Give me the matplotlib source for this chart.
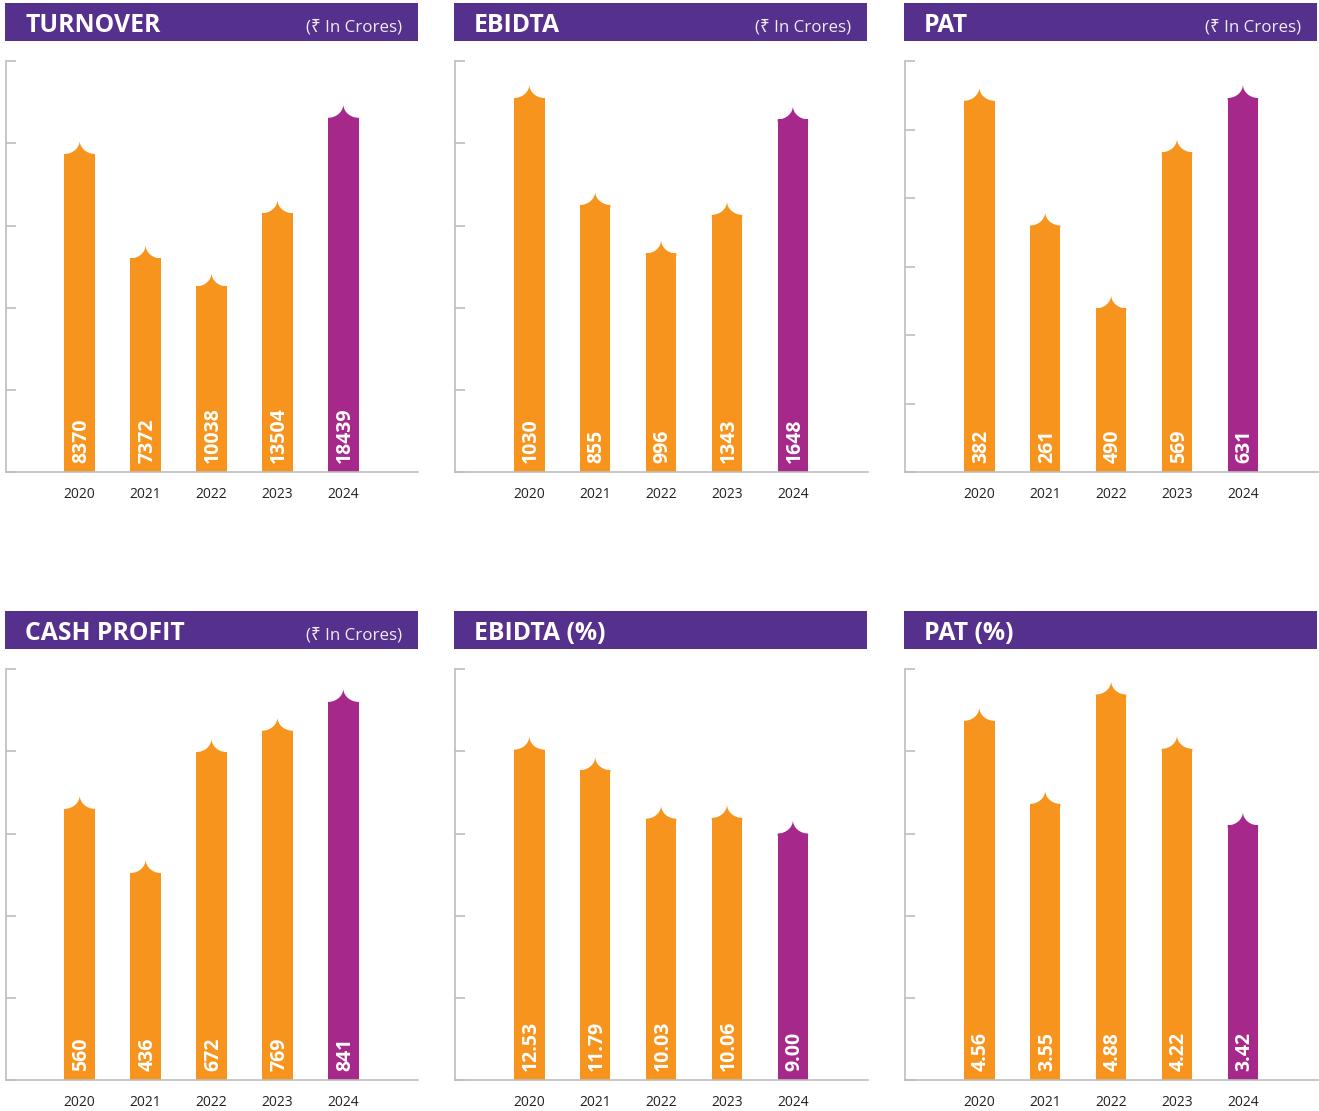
import matplotlib.pyplot as plt
from matplotlib.path import Path
from matplotlib.patches import PathPatch

plt.rcParams['font.family'] = ['Open Sans', 'Noto Sans', 'DejaVu Sans']

##### data #####
years = ['2020', '2021', '2022', '2023', '2024']

turnover = [8370, 7372, 10038, 13504, 18439]
ebidta = [1030, 855, 996, 1343, 1648]
pat = [382, 261, 490, 569, 631]
cash_profit = [560, 436, 672, 769, 841]
ebidta_pct = [12.53, 11.79, 10.03, 10.06, 9.00]
pat_pct = [4.56, 3.55, 4.88, 4.22, 3.42]

# drawn bar heights (in tick steps) -- the graphic is not to scale
turnover_bar = [3.87, 2.60, 2.26, 3.15, 4.31]
ebidta_bar = [4.55, 3.25, 2.66, 3.13, 4.29]
pat_bar = [5.42, 3.60, 2.39, 4.67, 5.46]
cash_profit_bar = [3.30, 2.52, 3.99, 4.25, 4.60]
ebidta_pct_bar = [4.02, 3.77, 3.18, 3.19, 3.00]
pat_pct_bar = [4.37, 3.36, 4.69, 4.03, 3.10]

n_ticks = [5, 5, 6, 5, 5, 5]

ORANGE = '#F7941E'
MAGENTA = '#A6288A'
HEADER = '#55308D'
AXIS = '#BDBDBD'

W, H = 1319, 1111
fig = plt.figure(figsize=(W / 100, H / 100), dpi=100)

panels = [
    ('TURNOVER', True, turnover, turnover_bar, '%d'),
    ('EBIDTA', True, ebidta, ebidta_bar, '%d'),
    ('PAT', True, pat, pat_bar, '%d'),
    ('CASH PROFIT', True, cash_profit, cash_profit_bar, '%d'),
    ('EBIDTA (%)', False, ebidta_pct, ebidta_pct_bar, '%.2f'),
    ('PAT (%)', False, pat_pct, pat_pct_bar, '%.2f'),
]

col_left = [5.7, 455.3, 905.3]
head_left = [5, 454, 904]
row_top = [61, 669]
head_top = [3, 611]
ax_w = 412.4
ax_h = 411.3
bar_w = 0.463
peak_px = 13.5
k = 0.55


def peak(ax, x, top, h, color):
    x0, x1 = x - bar_w / 2, x + bar_w / 2
    a = bar_w / 2
    verts = [(x0, top - 0.03), (x0, top),
             (x0 + k * a, top), (x, top + h - k * h), (x, top + h),
             (x, top + h - k * h), (x1 - k * a, top), (x1, top),
             (x1, top - 0.03), (x0, top - 0.03)]
    codes = [Path.MOVETO, Path.LINETO,
             Path.CURVE4, Path.CURVE4, Path.CURVE4,
             Path.CURVE4, Path.CURVE4, Path.CURVE4,
             Path.LINETO, Path.CLOSEPOLY]
    ax.add_patch(PathPatch(Path(verts, codes), facecolor=color, edgecolor='none', lw=0))


for i, (title, unit, values, bars, fmt) in enumerate(panels):
    c, r = i % 3, i // 3
    nt = n_ticks[i]

    # purple header band
    hx = fig.add_axes([head_left[c] / W, (H - head_top[r] - 38) / H, 413 / W, 38 / H])
    hx.set_facecolor(HEADER)
    hx.set_xticks([])
    hx.set_yticks([])
    for s in hx.spines.values():
        s.set_visible(False)
    hx.text(20 / 413, 0.23, title, color='white', fontsize=17.8, fontweight='bold',
            ha='left', va='baseline', transform=hx.transAxes)
    if unit:
        hx.text(1 - 16 / 413, 0.24, '(\u20b9 In Crores)', color='#F0ECF6', fontsize=12.2,
                ha='right', va='baseline', transform=hx.transAxes)

    ax = fig.add_axes([col_left[c] / W, (H - row_top[r] - ax_h) / H, ax_w / W, ax_h / H])
    x = list(range(len(years)))
    colors = [ORANGE] * 4 + [MAGENTA]
    ax.bar(x, bars, width=bar_w, color=colors, linewidth=0)
    h = peak_px / (ax_h / nt)
    for xi, b, col in zip(x, bars, colors):
        peak(ax, xi, b, h, col)
    for xi, v in zip(x, values):
        ax.annotate(fmt % v, xy=(xi, 0), xytext=(1.2, 6.5), textcoords='offset points',
                    rotation=90, ha='center', va='bottom', color='white',
                    fontsize=14, fontweight='bold')

    ax.set_xlim(-1.123, 5.135)
    ax.set_ylim(0, nt)
    ax.set_yticks(range(nt + 1))
    ax.set_yticklabels([])
    ax.set_xticks(x)
    ax.set_xticklabels(years)
    ax.tick_params(axis='y', direction='in', length=7, width=1.2, color=AXIS)
    ax.tick_params(axis='x', length=0, pad=10.5, labelsize=10, labelcolor='#222222')
    for s in ['top', 'right']:
        ax.spines[s].set_visible(False)
    for s in ['left', 'bottom']:
        ax.spines[s].set_color(AXIS)
        ax.spines[s].set_linewidth(1.2)
    ax.patch.set_alpha(0)

fig.savefig('out.png', dpi=100, facecolor='white')
